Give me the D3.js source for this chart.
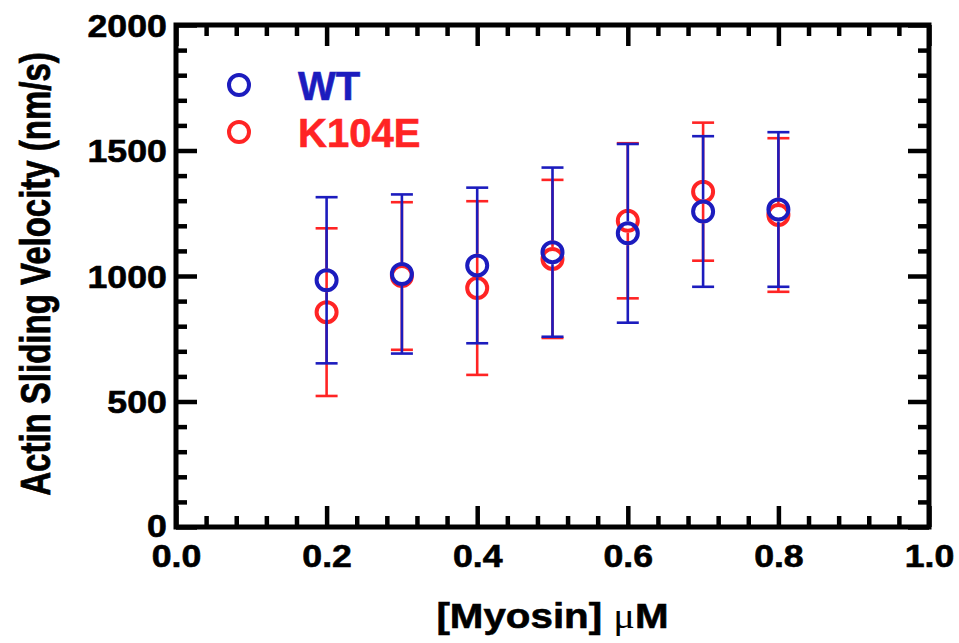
<!DOCTYPE html>
<html>
<head>
<meta charset="utf-8">
<script src="https://cdn.jsdelivr.net/npm/d3@7"></script>
<style>
  html, body { margin: 0; padding: 0; background: #fff; }
  svg { display: block; }
  text { font-family: "Liberation Sans", Arial, Helvetica, sans-serif; font-weight: bold; }
</style>
</head>
<body>
<svg id="chart" width="959" height="643"></svg>
<script>
// Myosin concentration (µM)
const myosin = [0.2, 0.3, 0.4, 0.5, 0.6, 0.7, 0.8];
// Actin sliding velocity, mean and SD (nm/s)
const wtMean   = [983, 1008, 1042, 1095, 1170, 1257, 1265];
const wtSD     = [331, 317, 310, 337, 356, 300, 308];
const k104Mean = [856, 1000, 952, 1068, 1220, 1336, 1243];
const k104SD   = [334, 294, 346, 315, 309, 275, 306];

const seriesNames = ["WT", "K104E"];
const xMajor = [0.0, 0.2, 0.4, 0.6, 0.8, 1.0];
const yMajor = [0, 500, 1000, 1500, 2000];

const BLUE = "#1c1cbe";
const RED = "#ff2424";

const svg = d3.select("#chart");
const x = d3.scaleLinear().domain([0, 1]).range([176, 929]);
const y = d3.scaleLinear().domain([0, 2000]).range([527, 25]);

const xMinor = d3.range(0, 1.0001, 0.04).filter(v => Math.abs(v / 0.2 - Math.round(v / 0.2)) > 1e-6);
const yMinor = d3.range(0, 2001, 100).filter(v => v % 500 !== 0);

const TICK_W = 4.5, MAJ = 21, MIN = 11, SX = 1.15;

function styleAxis(g) {
  g.select(".domain").remove();
  g.selectAll(".tick line").attr("stroke", "#000").attr("stroke-width", TICK_W);
}

// bottom axis: inward ticks, labels on major ticks
const bottomG = svg.append("g").attr("transform", `translate(0,${y(0)})`);
bottomG.append("g").call(d3.axisBottom(x).tickValues(xMinor).tickSize(-MIN).tickFormat("")).call(styleAxis);
bottomG.append("g").call(d3.axisBottom(x).tickValues(xMajor).tickSize(-MAJ).tickFormat(d3.format(".1f")))
  .call(styleAxis)
  .call(g => g.selectAll(".tick text")
    .attr("y", 40).attr("dy", 0)
    .attr("fill", "#000").attr("stroke", "#000").attr("stroke-width", 0.6)
    .style("font-size", "31px")
    .attr("transform", `scale(${SX},1)`));

// top axis mirror
const topG = svg.append("g").attr("transform", `translate(0,${y(2000)})`);
topG.append("g").call(d3.axisTop(x).tickValues(xMinor).tickSize(-MIN).tickFormat("")).call(styleAxis);
topG.append("g").call(d3.axisTop(x).tickValues(xMajor).tickSize(-MAJ).tickFormat("")).call(styleAxis);

// left axis
const leftG = svg.append("g").attr("transform", `translate(${x(0)},0)`);
leftG.append("g").call(d3.axisLeft(y).tickValues(yMinor).tickSize(-MIN).tickFormat("")).call(styleAxis);
leftG.append("g").call(d3.axisLeft(y).tickValues(yMajor).tickSize(-MAJ).tickFormat(d3.format("d")))
  .call(styleAxis)
  .call(g => g.selectAll(".tick text")
    .attr("x", -8).attr("dy", d => d === 0 ? "0.3em" : "0.36em")
    .attr("fill", "#000").attr("stroke", "#000").attr("stroke-width", 0.6)
    .style("font-size", "31px")
    .attr("transform", `scale(${SX},1)`));

// right axis mirror
const rightG = svg.append("g").attr("transform", `translate(${x(1)},0)`);
rightG.append("g").call(d3.axisRight(y).tickValues(yMinor).tickSize(-MIN).tickFormat("")).call(styleAxis);
rightG.append("g").call(d3.axisRight(y).tickValues(yMajor).tickSize(-MAJ).tickFormat("")).call(styleAxis);

// plot frame
svg.append("rect")
  .attr("x", x(0)).attr("y", y(2000))
  .attr("width", x(1) - x(0)).attr("height", y(0) - y(2000))
  .attr("fill", "none").attr("stroke", "#000").attr("stroke-width", 5);

// data series: error bars stop at the symbol edge, symbols are open circles
const R = 10, SYM_W = 4, CAP = 11, BAR_W = 2.6;
const series = [
  { name: seriesNames[1], mean: k104Mean, sd: k104SD, color: RED },
  { name: seriesNames[0], mean: wtMean, sd: wtSD, color: BLUE }
];

series.forEach(s => {
  const pts = myosin.map((c, i) => ({ c, m: s.mean[i], e: s.sd[i] }));
  const g = svg.append("g");
  const bars = g.selectAll("g.bar").data(pts).join("g").attr("class", "bar")
    .attr("stroke", s.color).attr("stroke-width", BAR_W);
  // upper whisker
  bars.append("line")
    .attr("x1", d => x(d.c)).attr("x2", d => x(d.c))
    .attr("y1", d => y(d.m) - R - SYM_W / 2).attr("y2", d => y(d.m + d.e));
  // lower whisker
  bars.append("line")
    .attr("x1", d => x(d.c)).attr("x2", d => x(d.c))
    .attr("y1", d => y(d.m) + R + SYM_W / 2).attr("y2", d => y(d.m - d.e));
  // caps
  bars.append("line")
    .attr("x1", d => x(d.c) - CAP).attr("x2", d => x(d.c) + CAP)
    .attr("y1", d => y(d.m + d.e)).attr("y2", d => y(d.m + d.e));
  bars.append("line")
    .attr("x1", d => x(d.c) - CAP).attr("x2", d => x(d.c) + CAP)
    .attr("y1", d => y(d.m - d.e)).attr("y2", d => y(d.m - d.e));
  g.selectAll("circle").data(pts).join("circle")
    .attr("cx", d => x(d.c)).attr("cy", d => y(d.m)).attr("r", R)
    .attr("fill", "none").attr("stroke", s.color).attr("stroke-width", SYM_W);
});

// legend
const legend = svg.append("g");
[{ name: seriesNames[0], color: BLUE }, { name: seriesNames[1], color: RED }].forEach((s, i) => {
  const cy = 85 + i * 47;
  legend.append("circle").attr("cx", 239).attr("cy", cy).attr("r", R)
    .attr("fill", "none").attr("stroke", s.color).attr("stroke-width", SYM_W);
  legend.append("text").attr("x", 298).attr("y", cy + 15)
    .attr("fill", s.color).attr("stroke", s.color).attr("stroke-width", 0.6)
    .style("font-size", "40px").text(s.name);
});

// axis titles
const xTitle = svg.append("text")
  .attr("text-anchor", "middle")
  .attr("transform", `translate(${(x(0) + x(1)) / 2},628) scale(1.12,1)`)
  .style("font-size", "36px").attr("fill", "#000");
xTitle.append("tspan").attr("stroke", "#000").attr("stroke-width", 0.6).text("[Myosin] ");
xTitle.append("tspan").style("font-family", "'Liberation Serif', 'Times New Roman', serif")
  .style("font-weight", "normal").text("\u03bc");
xTitle.append("tspan").attr("stroke", "#000").attr("stroke-width", 0.6).text("M");

svg.append("text")
  .attr("text-anchor", "middle")
  .attr("transform", `translate(50,${(y(0) + y(2000)) / 2 - 2}) scale(1.27,1) rotate(-90)`)
  .style("font-size", "33px").attr("fill", "#000")
  .attr("stroke", "#000").attr("stroke-width", 0.6)
  .text("Actin Sliding Velocity (nm/s)");
</script>
</body>
</html>
